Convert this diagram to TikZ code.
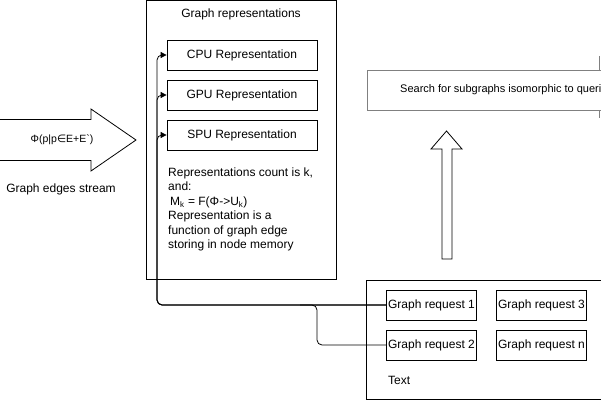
\documentclass[tikz,border=0pt]{standalone}
\usepackage{fontspec}
\setmainfont{Liberation Sans}
\newfontfamily\djv{DejaVu Sans}
\usetikzlibrary{arrows.meta}
\begin{document}
\begin{tikzpicture}[x=1pt,y=-1pt,
  every node/.style={font=\fontsize{12}{14.5}\selectfont, inner sep=0pt},
  box/.style={draw, line width=0.8pt, minimum width=150pt, minimum height=30pt},
  reqbox/.style={draw, line width=0.8pt, minimum width=90pt, minimum height=30pt},
  frame/.style={draw, line width=0.8pt},
  conn/.style={line width=0.8pt, rounded corners=5pt},
  tip/.style={-{Triangle[length=6pt,width=6pt]}},
  hollow/.style={draw, line width=0.8pt, fill=white, line join=miter}]
\useasboundingbox (0,0) rectangle (601,401);
% left stream arrow
\draw[hollow] (-2,119.5) -- (91,119.5) -- (91,109) -- (136,140) -- (91,171) -- (91,160.5) -- (-2,160.5) -- cycle;
\node (phi) at (62,140) {\fontsize{10.5}{12}\selectfont Φ(p|p{\djv ∈}E+E\textasciigrave)};
\node (stream) at (61,189.5) {Graph edges stream};
% representations container
\draw[frame] (146.5,0.5) rectangle (336,279.5);
\node (reptitle) at (241,14) {Graph representations};
\node[box] (cpu) at (242,55) {CPU Representation};
\node[box] (gpu) at (242,95) {GPU Representation};
\node[box] (spu) at (242,135) {SPU Representation};
\node[anchor=north west, align=left] (desc) at (168,167.5) {Representations count is k,\\and:\\\,M\textsubscript{k} = F(Φ->U\textsubscript{k})\\Representation is a\\function of graph edge\\storing in node memory};
% search box
\draw[gray, line width=0.8pt] (599.5,56) -- (599.5,118);
\node[draw=gray, line width=0.8pt, fill=white, minimum width=260pt, minimum height=40pt, anchor=north west] (search) at (367,70) {};
\node[anchor=west] (searchtxt) at (400,90) {\fontsize{11}{13}\selectfont Search for subgraphs isomorphic to queries};
% up arrow
\draw[hollow] (442,259) -- (442,149) -- (431,149) -- (446.5,131) -- (462,149) -- (452,149) -- (452,259) -- cycle;
% requests container
\draw[frame] (366.5,280.5) rectangle (640,399.5);
\node[reqbox] (r1) at (431.5,305) {Graph request 1};
\node[reqbox] (r3) at (541.5,305) {Graph request 3};
\node[reqbox] (r2) at (431.5,345) {Graph request 2};
\node[reqbox] (rn) at (541.5,345) {Graph request n};
\node[anchor=west] (txt) at (388,380) {Text};
% connectors
\draw[conn, tip] (r1.west) -- (157,305) -- (157,55) -- (cpu.west);
\draw[conn, tip] (r1.west) -- (157,305) -- (157,95) -- (gpu.west);
\draw[conn, tip] (r1.west) -- (157,305) -- (157,135) -- (spu.west);
\draw[conn] (r2.west) -- (317,345) -- (317,305) -- (300,305);
\end{tikzpicture}
\end{document}
